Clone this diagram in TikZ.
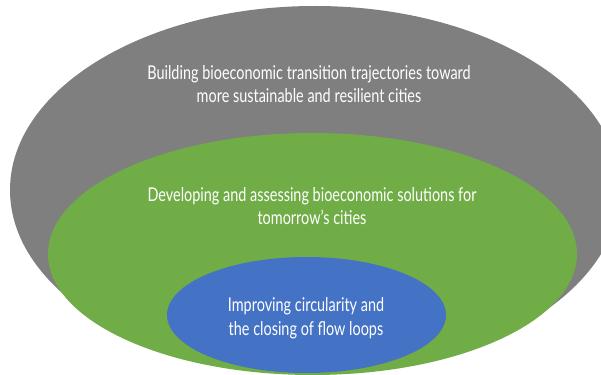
\documentclass[tikz,border=0pt]{standalone}
\usepackage{fontspec}
\setmainfont{Lato}[FakeStretch=0.76]
\usetikzlibrary{shapes.geometric}
\definecolor{ringgrey}{HTML}{7F7F7F}
\definecolor{ringgreen}{HTML}{70AD47}
\definecolor{ringblue}{HTML}{4472C4}
\begin{document}
\begin{tikzpicture}[x=1pt,y=-1pt,
  ring/.style={ellipse, inner sep=0pt, draw=none},
  label/.style={text=white, align=center, inner sep=0pt,
    font=\fontsize{19}{23.5}\selectfont}]
\useasboundingbox (0,0) rectangle (601,374);
\clip (0,0) rectangle (601,374);
\fill[white] (0,0) rectangle (601,374);
% nested ellipses, outermost first
\node[ring, fill=ringgrey, minimum width=610pt, minimum height=368pt] (outer) at (315,190) {};
\node[ring, fill=ringgreen, minimum width=529pt, minimum height=242pt] (middle) at (312.5,254) {};
\node[ring, fill=ringblue, minimum width=279pt, minimum height=116pt] (inner) at (306.5,315) {};
% captions
\node[label] (outertext) at (309,84) {Building bioeconomic transition trajectories toward\\more sustainable and resilient cities};
\node[label] (middletext) at (312,206) {Developing and assessing bioeconomic solutions for\\tomorrow’s cities};
\node[label] (innertext) at (306,318) {Improving circularity and\\the closing of flow loops};
\end{tikzpicture}
\end{document}
